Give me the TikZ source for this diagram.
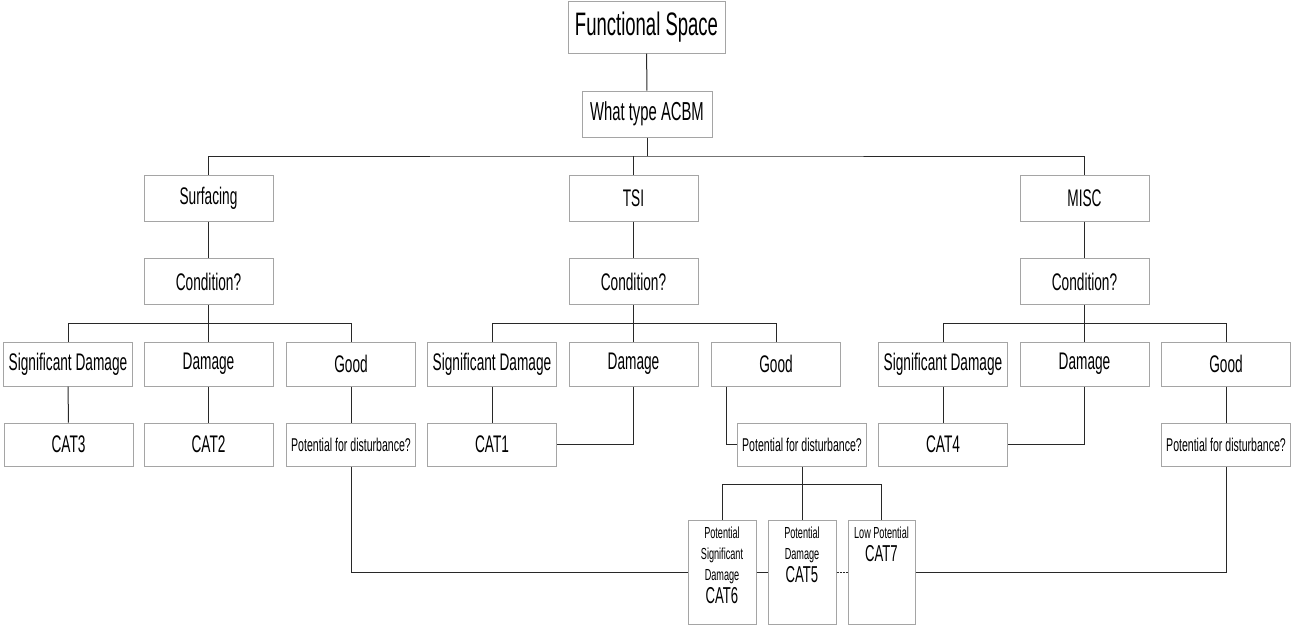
\documentclass[tikz,border=0pt]{standalone}
\usepackage{fontspec}
\setmainfont[FakeStretch=0.57]{Liberation Sans}
\definecolor{boxgray}{RGB}{165,165,165}
\definecolor{linegray}{RGB}{40,40,40}
\newcommand{\bottomtext}{\fontsize{16}{21}\selectfont}
\newcommand{\catlabel}{\fontsize{23}{23}\selectfont}
\begin{document}
\begin{tikzpicture}[x=1pt,y=-1pt,
        box/.style={draw=boxgray, line width=1pt, inner sep=0pt,
            minimum width=129pt, minimum height=44pt, font=\fontsize{24}{26}\selectfont},
        smallbox/.style={box, font=\fontsize{18.5}{20}\selectfont},
        catbox/.style={draw=boxgray, line width=1pt, inner sep=0pt},
        link/.style={draw=linegray, line width=1pt},
        thinlink/.style={draw=linegray, line width=0.5pt}]
                \useasboundingbox (0,0) rectangle (1291,625);

                \node[box, minimum width=157pt, minimum height=52pt, font=\fontsize{32.5}{34}\selectfont] (func) at (646.5,27) {Functional Space};
                \node[box, minimum width=130pt, minimum height=46pt, font=\fontsize{26}{28}\selectfont] (acbm) at (647,114) {What type ACBM};

                \node[box, minimum height=46pt] (surf) at (208.5,198) {Surfacing};
                \node[box, minimum height=46pt] (tsi) at (633.5,198) {TSI};
                \node[box, minimum height=46pt] (misc) at (1084.5,198) {MISC};
                \node[box, minimum height=46pt] (condS) at (208.5,281.5) {Condition?};
                \node[box, minimum height=46pt] (condT) at (633.5,281.5) {Condition?};
                \node[box, minimum height=46pt] (condM) at (1084.5,281.5) {Condition?};

                \node[box] (sigS) at (68,364) {Significant Damage};
                \node[box] (dmgS) at (208.5,364) {Damage};
                \node[box] (goodS) at (351,364) {Good};
                \node[box] (sigT) at (492,364) {Significant Damage};
                \node[box] (dmgT) at (633.5,364) {Damage};
                \node[box] (goodT) at (776,364) {Good};
                \node[box] (sigM) at (943,364) {Significant Damage};
                \node[box] (dmgM) at (1084.5,364) {Damage};
                \node[box] (goodM) at (1226,364) {Good};

                \node[box, minimum height=43pt] (catThree) at (68.5,444.5) {CAT3};
                \node[box, minimum height=43pt] (catTwo) at (208.5,444.5) {CAT2};
                \node[smallbox, minimum height=43pt] (pfdS) at (351,444.5) {Potential for disturbance?};
                \node[box, minimum height=43pt] (catOne) at (492,444.5) {CAT1};
                \node[smallbox, minimum height=43pt] (pfdT) at (802,444.5) {Potential for disturbance?};
                \node[box, minimum height=43pt] (catFour) at (943,444.5) {CAT4};
                \node[smallbox, minimum height=43pt] (pfdM) at (1226,444.5) {Potential for disturbance?};

                \node[catbox] (catSix) at (722,572) {\parbox[c][104pt][t]{68pt}{\centering\bottomtext\rule{0pt}{18pt}Potential\\Significant\\Damage\par\catlabel CAT6}};
                \node[catbox] (catFive) at (802,572) {\parbox[c][104pt][t]{68pt}{\centering\bottomtext\rule{0pt}{18pt}Potential\\Damage\par\catlabel CAT5}};
                \node[catbox] (catSeven) at (881.5,572) {\parbox[c][104pt][t]{67pt}{\centering\bottomtext\rule{0pt}{18pt}Low Potential\par\catlabel CAT7}};

                \coordinate (typeBus) at (647,156);
                \coordinate (busS) at (208.5,323.5);
                \coordinate (busT) at (633.5,323.5);
                \coordinate (busM) at (1084.5,323.5);
                \coordinate (busP) at (802,484);

                % top part
                \draw[link] (func) -- (acbm);
                \draw[link] (acbm) -- (typeBus);
                \draw[link] (surf.north) |- (typeBus) -| (misc.north);
                \draw[link] (tsi.north) -- (tsi.north |- typeBus);
                \draw[link] (surf) -- (condS);
                \draw[link] (tsi) -- (condT);
                \draw[link] (misc) -- (condM);

                % condition rows
                \draw[link] (condS) -- (dmgS);
                \draw[link] (sigS.north) |- (busS) -| (goodS.north);
                \draw[link] (condT) -- (dmgT);
                \draw[link] (sigT.north) |- (busT) -| (goodT.north);
                \draw[link] (condM) -- (dmgM);
                \draw[link] (sigM.north) |- (busM) -| (goodM.north);

                \draw[link] (sigS) -- (catThree);
                \draw[link] (dmgS) -- (catTwo);
                \draw[link] (goodS) -- (pfdS);
                \draw[link] (sigT) -- (catOne);
                \draw[link] (dmgT.south) |- (catOne.east);
                \draw[link] ([xshift=-50pt]goodT.south) |- (pfdT.west);
                \draw[link] (sigM) -- (catFour);
                \draw[link] (dmgM.south) |- (catFour.east);
                \draw[link] (goodM) -- (pfdM);

                % bottom
                \draw[link] (pfdT) -- (busP);
                \draw[link] (catSix.north) |- (busP) -| (catSeven.north);
                \draw[link] (busP) -- (catFive.north);
                \draw[link] (pfdS.south) |- (catSix.west);
                \draw[thinlink] (catSix.east) -- (catFive.west);
                \draw[thinlink, densely dotted] (catFive.east) -- (catSeven.west);
                \draw[link] (catSeven.east) -| (pfdM.south);
            \end{tikzpicture}
\end{document}
